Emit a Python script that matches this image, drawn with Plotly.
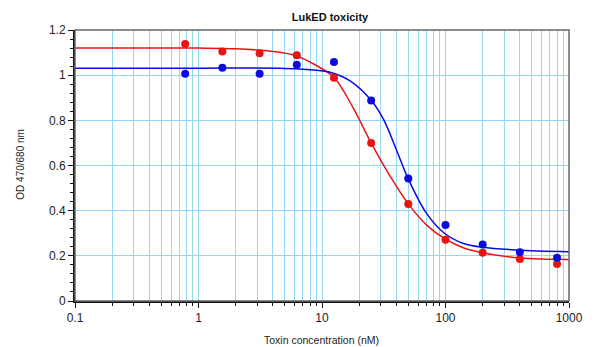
import plotly.graph_objects as go

# ---- data ----
conc = [0.78, 1.56, 3.125, 6.25, 12.5, 25, 50, 100, 200, 400, 800]
red_od = [1.138, 1.105, 1.097, 1.088, 0.989, 0.700, 0.429, 0.271, 0.214, 0.186, 0.164]
blue_od = [1.006, 1.033, 1.006, 1.046, 1.058, 0.888, 0.542, 0.336, 0.250, 0.216, 0.192]

# fitted curves
red_fit_x = [0.1, 1, 2, 4, 6.25, 8.84, 12.5, 17.7, 25, 35.4, 50, 70.7, 100, 141, 200, 400, 1000]
red_fit_y = [1.12, 1.12, 1.117, 1.105, 1.085, 1.045, 0.99, 0.86, 0.70, 0.555, 0.43, 0.335,
             0.274, 0.235, 0.214, 0.190, 0.184]
blue_fit_x = [0.1, 1, 5, 9, 12, 17, 25, 31.5, 40, 50, 70, 98, 138, 200, 370, 1000]
blue_fit_y = [1.031, 1.031, 1.030, 1.022, 1.011, 0.974, 0.889, 0.804, 0.670, 0.540, 0.389,
              0.300, 0.256, 0.238, 0.226, 0.218]

x_tickvals = [0.1, 1, 10, 100, 1000]
x_ticktext = ["0.1", "1", "10", "100", "1000"]
y_tickvals = [0, 0.2, 0.4, 0.6, 0.8, 1.0, 1.2]
y_ticktext = ["0", "0.2", "0.4", "0.6", "0.8", "1", "1.2"]

RED = "rgb(232,20,20)"
BLUE = "rgb(10,10,225)"
GRID = "rgb(150,216,242)"
FONT = "Liberation Sans, Arial, sans-serif"

fig = go.Figure()
fig.add_trace(go.Scatter(x=red_fit_x, y=red_fit_y, mode="lines", line=dict(color=RED, width=1.5, shape="spline"),
                         showlegend=False, hoverinfo="skip"))
fig.add_trace(go.Scatter(x=blue_fit_x, y=blue_fit_y, mode="lines", line=dict(color=BLUE, width=1.5, shape="spline"),
                         showlegend=False, hoverinfo="skip"))
fig.add_trace(go.Scatter(x=conc, y=red_od, mode="markers", marker=dict(color=RED, size=8),
                         showlegend=False))
fig.add_trace(go.Scatter(x=conc, y=blue_od, mode="markers", marker=dict(color=BLUE, size=8),
                         showlegend=False))

# page has an 8px body margin: figure is 587x339 so it fills the 595x347 window
fig.update_layout(
    width=587, height=339,
    margin=dict(l=67, r=21, t=22, b=46),
    paper_bgcolor="white", plot_bgcolor="white",
    font=dict(family=FONT, size=12, color="#222"),
    title=dict(text="<b>LukED toxicity</b>", x=322 / 587, xanchor="center", y=1 - 9 / 339, yanchor="middle",
               font=dict(size=11, color="#111", family=FONT)),
    annotations=[
        dict(text="Toxin concentration (nM)", xref="paper", yref="paper", x=0.499, y=-39 / 271,
             xanchor="center", yanchor="middle", showarrow=False, font=dict(size=10.5, color="#222")),
        dict(text="OD 470/680 nm", xref="paper", yref="paper", x=-55 / 499, y=0.505, textangle=-90,
             xanchor="center", yanchor="middle", showarrow=False, font=dict(size=10, color="#222")),
    ],
)

fig.update_xaxes(
    type="log", range=[-1, 3],
    tickvals=x_tickvals, ticktext=x_ticktext,
    showgrid=True, gridcolor=GRID, gridwidth=1,
    ticks="outside", ticklen=5, tickcolor="#111",
    showline=True, linecolor="#111", linewidth=2, mirror=False,
    zeroline=False,
    minor=dict(dtick="D1", showgrid=True, gridcolor=GRID, gridwidth=1, ticks="outside", ticklen=3, tickcolor="#111"),
)
fig.update_yaxes(
    range=[0, 1.2],
    tickvals=y_tickvals, ticktext=y_ticktext,
    showgrid=True, gridcolor=GRID, gridwidth=1,
    ticks="outside", ticklen=5, tickcolor="#111",
    showline=True, linecolor="#111", linewidth=2,
    zeroline=False,
    minor=dict(dtick=0.04, tick0=0, ticks="outside", ticklen=3, tickcolor="#111", showgrid=False),
)

# grey frame on top/right
fig.add_shape(type="rect", xref="paper", yref="paper", x0=0, y0=0, x1=1, y1=1,
              line=dict(color="#666", width=1.5), layer="above")

fig.write_html("out.html")
